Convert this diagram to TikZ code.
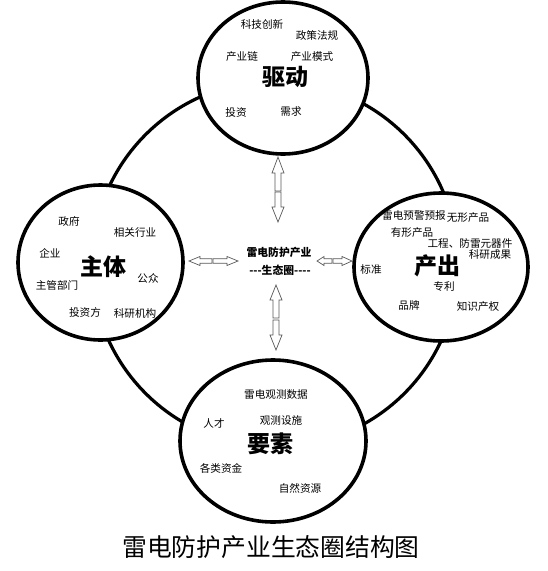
\documentclass[tikz,border=0pt]{standalone}
\usepackage{fontspec}
\setmainfont{Noto Sans CJK SC}
\usetikzlibrary{shapes.geometric}
\begin{document}
\begin{tikzpicture}[x=1pt,y=-1pt,
  ringline/.style={circle, draw, line width=3.2pt, inner sep=0pt},
  bubble/.style={ellipse, draw, line width=3.6pt, fill=white, inner sep=0pt},
  headtxt/.style={font=\fontsize{23}{23}\selectfont\bfseries, inner sep=0pt},
  lbl/.style={font=\fontsize{10.6}{11}\selectfont, inner sep=0pt},
  hubtxt/.style={font=\fontsize{10.8}{11}\selectfont\bfseries, inner sep=0pt},
  arrowline/.style={draw=black!65, line width=0.7pt, fill=white, line join=miter},
  pics/blockarr/.style n args={4}{code={
    \draw[arrowline] (0,0) -- (-#2,#3) -- (-#2,#4) -- (-#1,#4) -- (-#1,-#4) -- (-#2,-#4) -- (-#2,-#3) -- cycle;
  }}
]
\useasboundingbox (0,0) rectangle (548,571);
\fill[white] (0,0) rectangle (548,571);

% ring
\node[ringline, minimum size=366pt] (ring) at (275,264) {};

% bubbles
\node[bubble, minimum width=170pt, minimum height=152pt] (drive) at (283,78) {};
\node[bubble, minimum width=165pt, minimum height=155pt] (actor) at (100.5,262.5) {};
\node[bubble, minimum width=174pt, minimum height=148pt] (output) at (441,267) {};
\node[bubble, minimum width=186pt, minimum height=162pt] (factor) at (273,441) {};

% headings
\node[headtxt] (hdrive) at (285,77) {驱动};
\node[headtxt] (hactor) at (103,267) {主体};
\node[headtxt] (houtput) at (437,266) {产出};
\node[headtxt] (hfactor) at (270,444) {要素};

% drive labels
\node[lbl] (d1) at (262,24) {科技创新};
\node[lbl] (d2) at (317,35) {政策法规};
\node[lbl] (d3) at (242,56) {产业链};
\node[lbl] (d4) at (312,57) {产业模式};
\node[lbl] (d5) at (236,112) {投资};
\node[lbl] (d6) at (291,111) {需求};

% actor labels
\node[lbl] (a1) at (69,221) {政府};
\node[lbl] (a2) at (135,232) {相关行业};
\node[lbl] (a3) at (50,253) {企业};
\node[lbl] (a4) at (148,278) {公众};
\node[lbl] (a5) at (57,285) {主管部门};
\node[lbl] (a6) at (85,312) {投资方};
\node[lbl] (a7) at (135,313) {科研机构};

% output labels
\node[lbl] (o1) at (414,215) {雷电预警预报};
\node[lbl] (o2) at (468,217) {无形产品};
\node[lbl] (o3) at (412,232) {有形产品};
\node[lbl] (o4) at (470,243) {工程、防雷元器件};
\node[lbl] (o5) at (490,254) {科研成果};
\node[lbl] (o6) at (371,269) {标准};
\node[lbl] (o7) at (444,286) {专利};
\node[lbl] (o8) at (409,305) {品牌};
\node[lbl] (o9) at (478,306) {知识产权};

% factor labels
\node[lbl] (f1) at (276,394) {雷电观测数据};
\node[lbl] (f2) at (214,423) {人才};
\node[lbl] (f3) at (281,420) {观测设施};
\node[lbl] (f4) at (221,468) {各类资金};
\node[lbl] (f5) at (300,488) {自然资源};

% hub
\node[hubtxt] (hub) at (279,252) {雷电防护产业};
\node[hubtxt] (eco) at (280,270) {-{}-{}-生态圈-{}-{}-{}-};

% block arrows
\pic[rotate=90] at (278,157) {blockarr={34}{16}{6}{3}};
\pic[rotate=-90] at (278,222) {blockarr={30}{15}{6}{3}};
\pic[rotate=90] at (276,285) {blockarr={33}{15}{6}{3}};
\pic[rotate=-90] at (276,350) {blockarr={30}{15}{6}{3}};
\pic[rotate=180] at (189,261) {blockarr={23}{11}{4.5}{2.3}};
\pic at (238,261) {blockarr={25}{11}{4.5}{2.3}};
\pic[rotate=180] at (317,261) {blockarr={15}{7}{4.5}{2.3}};
\pic at (352,261) {blockarr={19}{10}{4.5}{2.3}};

% title
\node[font=\fontsize{24.8}{25}\selectfont, inner sep=0pt] (title) at (271,547) {雷电防护产业生态圈结构图};
\end{tikzpicture}
\end{document}
